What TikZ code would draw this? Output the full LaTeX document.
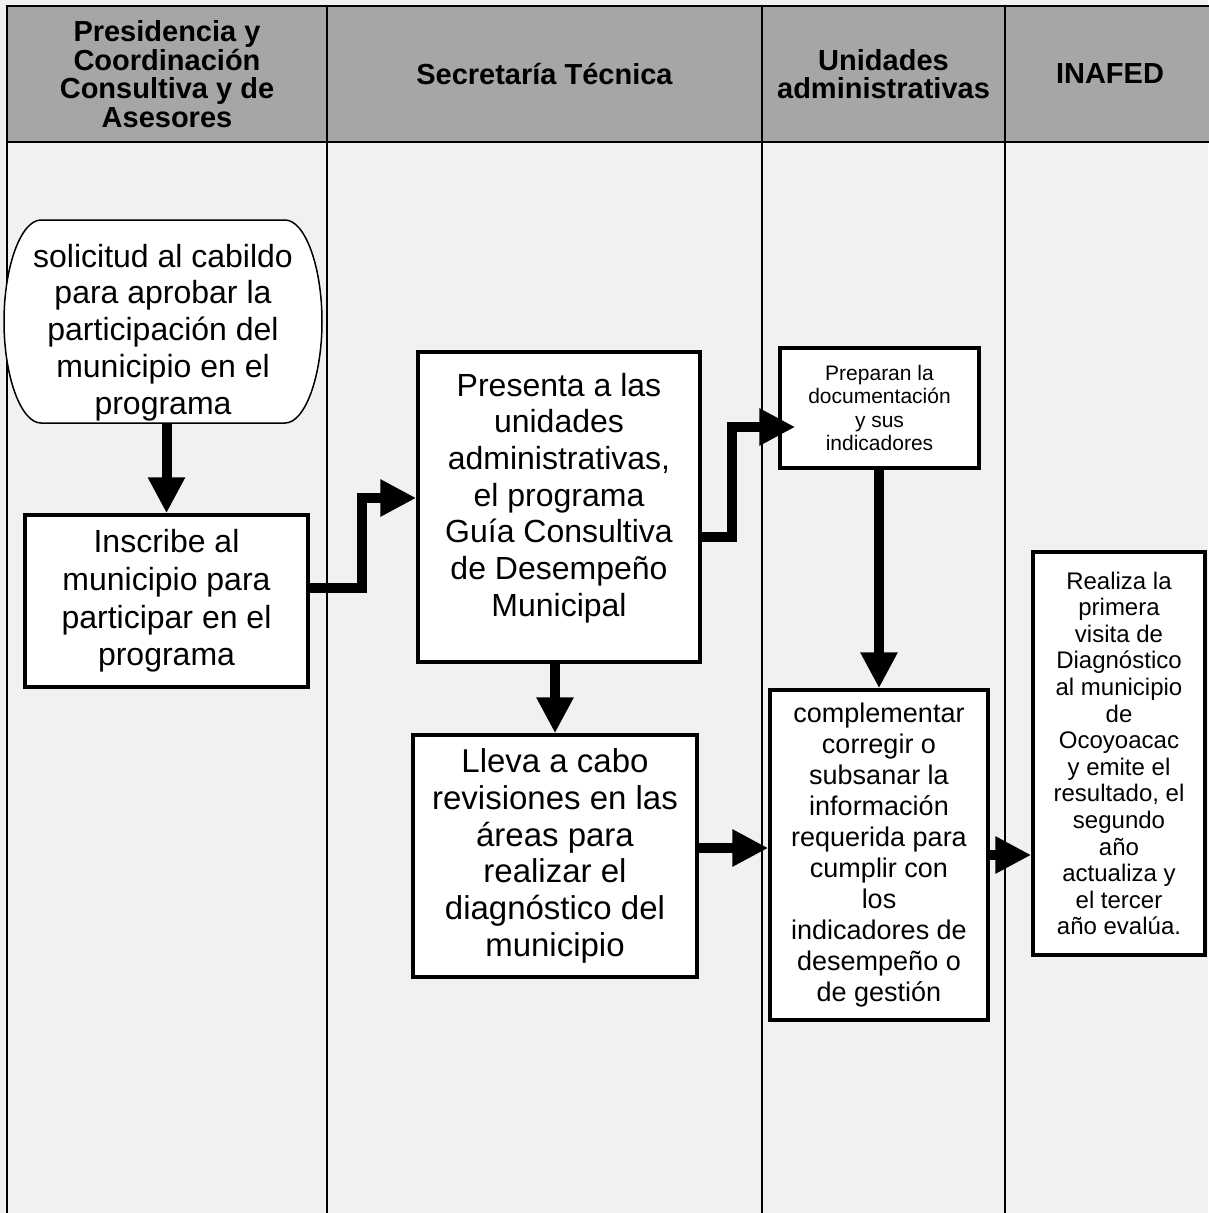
\documentclass[tikz,border=0pt]{standalone}
\usepackage{fontspec}
\setmainfont{Liberation Sans}
\usetikzlibrary{arrows.meta}
\definecolor{hdrgray}{RGB}{166,166,166}
\definecolor{paper}{RGB}{241,241,241}

\begin{document}
\begin{tikzpicture}[
    x=1pt, y=-1pt,
    lane/.style={draw=black, line width=1.4pt},
    hdr/.style={font=\fontsize{29pt}{28.5pt}\selectfont\bfseries, align=center, text=black},
    act/.style={draw=black, fill=white, line width=3.5pt, align=center, inner sep=2pt},
    term/.style={align=center, inner sep=2pt},
    flow/.style={line width=10pt, -{Triangle[length=36pt, width=35pt]}}
]

\useasboundingbox (0,0) rectangle (1208,1213);
\fill[paper] (0,0) rectangle (1208,1213);

\draw[line width=2.5pt, fill=hdrgray] (7,6) rectangle (1215,142);
\foreach \x in {327,762,1005}
    \draw[line width=2.5pt] (\x,6) -- (\x,142);
\foreach \x in {7,327,762,1005}
    \draw[lane] (\x,142) -- (\x,1213);

\node[hdr] (hpres) at (167,74) {Presidencia y\\Coordinación\\Consultiva y de\\Asesores};
\node[hdr] (hsec) at (544.5,74) {Secretaría Técnica};
\node[hdr] (huni) at (883.5,74) {Unidades\\administrativas};
\node[hdr] (hinafed) at (1110,74) {INAFED};

\begin{scope}[shift={(163,321.5)}]
\draw[line width=1.5pt, fill=white] (-122,-101.5) -- (122,-101.5)
    .. controls (142,-101.5) and (159,-55) .. (159,0)
    .. controls (159,55) and (142,101.5) .. (122,101.5)
    -- (-122,101.5)
    .. controls (-142,101.5) and (-159,55) .. (-159,0)
    .. controls (-159,-55) and (-142,-101.5) .. (-122,-101.5) -- cycle;
\end{scope}
\node[term, minimum width=318pt, minimum height=203pt,
    font=\fontsize{32pt}{36.8pt}\selectfont] (sol) at (163,321.5) {
    \raisebox{-18pt}[0pt][0pt]{\begin{tabular}{@{}c@{}}
    solicitud al cabildo\\para aprobar la\\participación del\\municipio en el\\programa
    \end{tabular}}};

\node[act, minimum width=283pt, minimum height=172pt,
    font=\fontsize{32pt}{37.7pt}\selectfont] (insc) at (166.5,601) {
    Inscribe al\\municipio para\\participar en el\\programa};

\node[act, minimum width=282pt, minimum height=310pt,
    font=\fontsize{32pt}{36.7pt}\selectfont] (pres) at (559,507) {
    Presenta a las\\unidades\\administrativas,\\el programa\\Guía Consultiva\\de Desempeño\\Municipal\rule[-25pt]{0pt}{25pt}};

\node[act, minimum width=284pt, minimum height=242pt,
    font=\fontsize{33pt}{36.8pt}\selectfont] (llev) at (555,856) {
    Lleva a cabo\\revisiones en las\\áreas para\\realizar el\\diagnóstico del\\municipio};

\node[act, minimum width=199pt, minimum height=120pt,
    font=\fontsize{21pt}{23.5pt}\selectfont] (prep) at (879.5,408) {
    Preparan la\\documentación\\y sus\\indicadores};

\node[act, minimum width=218pt, minimum height=330pt,
    font=\fontsize{27pt}{31.1pt}\selectfont] (comp) at (879,855) {
    complementar\\corregir o\\subsanar la\\información\\requerida para\\cumplir con\\los\\indicadores de\\desempeño o\\de gestión};

\node[act, minimum width=172pt, minimum height=403pt,
    font=\fontsize{24pt}{26.6pt}\selectfont] (real) at (1119,753.5) {
    Realiza la\\primera\\visita de\\Diagnóstico\\al municipio\\de\\Ocoyoacac\\y emite el\\resultado, el\\segundo\\año\\actualiza y\\el tercer\\año evalúa.};

\draw[flow] (insc.north |- sol.south) -- (insc.north);
\draw[flow] ([yshift=13pt]insc.east) -| ([xshift=-54pt,yshift=9pt]pres.west) -- ([yshift=9pt]pres.west);
\draw[flow] ([yshift=-30pt]pres.east) -| ([xshift=-46pt,yshift=-19pt]prep.west) -- ([xshift=17pt,yshift=-19pt]prep.west);
\draw[flow] (llev.north |- pres.south) -- (llev.north);
\draw[flow] (comp.north |- prep.south) -- (comp.north);
\draw[flow] ([yshift=8pt]llev.east) -- ([yshift=8pt]llev.east -| comp.west);
\draw[flow] (comp.east) -- (comp.east -| real.west);

\end{tikzpicture}
\end{document}
